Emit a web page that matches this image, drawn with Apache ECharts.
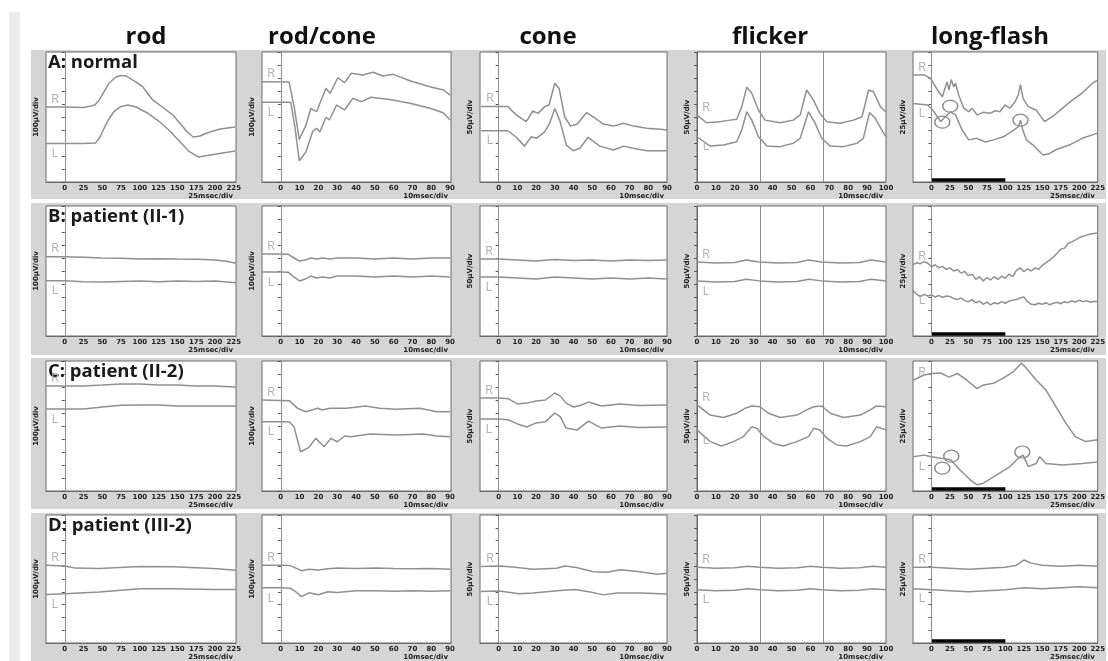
<!DOCTYPE html>
<html>
<head>
<meta charset="utf-8">
<script src="https://cdn.jsdelivr.net/npm/echarts/dist/echarts.min.js"></script>
<style>
html,body{margin:0;padding:0;background:#fff;}
#chart{width:1108px;height:661px;}
</style>
</head>
<body>
<div id="chart"></div>
<script>
// ERG recordings: 4 subjects x 5 protocols, right (R) and left (L) eye traces.
// Each trace is [time in ms, amplitude in µV].

const columnTitles = ['rod', 'rod/cone', 'cone', 'flicker', 'long-flash'];
const rowLabels = ['A: normal', 'B: patient (II-1)', 'C: patient (II-2)', 'D: patient (III-2)'];
const timeScaleLabels = ['25msec/div', '10msec/div', '10msec/div', '10msec/div', '25msec/div'];
const ampPerDiv = [100, 100, 50, 50, 25];
const ampScaleLabels = ['100µV/div', '100µV/div', '50µV/div', '50µV/div', '25µV/div'];
const timeRanges = [[-25, 228], [-10, 90.5], [-10, 90], [0, 100], [-25, 225]];
const timeSteps = [25, 10, 10, 10, 25];
const stimulusMarks = [[0], [0], [0], [33.3, 66.7], [0]];
const flashDuration = [0, 100];

// ---- A: normal ----
const rod_A_R = [[-25,577],[0,577],[25,573],[35,585],[40,592],[46,631],[52,692],[59,762],[68,808],[75,819],[82,815],[95,769],[104,731],[117,631],[130,577],[144,515],[162,392],[171,346],[180,354],[189,377],[207,408],[227,423]];
const rod_A_L = [[-25,296],[0,296],[25,296],[41,300],[46,338],[52,408],[58,477],[66,546],[75,581],[84,592],[95,577],[110,531],[125,469],[140,392],[155,300],[165,238],[178,192],[190,204],[210,223],[227,238]];
const rc_A_R = [[-10,772],[4.4,769],[7.1,579],[9.8,328],[13.4,438],[16,567],[19,541],[24,721],[26.2,682],[30.3,802],[33.9,764],[37.4,836],[43.6,823],[49,844],[54.3,815],[59.7,828],[68.6,779],[79.3,733],[86.4,708],[90,669]];
const rc_A_L = [[-10,613],[5.3,613],[7.5,425],[9.8,164],[13.4,233],[16.9,387],[19,413],[20.8,387],[24,498],[25.8,477],[29.7,592],[33.9,554],[38.3,644],[42.8,618],[48.1,652],[59.7,631],[68.6,605],[79.3,567],[86.4,533],[90,477]];
const cone_A_R = [[-9.5,290],[4.9,290],[9.4,258],[14.7,232],[18.3,273],[21,264],[24.6,290],[26.9,296],[30,380],[32.3,360],[35.3,251],[38.4,215],[41.9,222],[47,267],[50.9,249],[55.9,223],[61.3,215],[66.7,226],[72,215],[79.2,207],[86.4,203],[90,200]];
const cone_A_L = [[-9.5,197],[4.9,197],[9.4,172],[13.8,138],[17.4,174],[20.1,168],[24.6,193],[27.3,226],[30,283],[32.6,238],[36.2,142],[39.8,120],[43.4,130],[47.8,172],[54.1,138],[61.3,123],[66.7,138],[72,130],[79.2,120],[90,120]];
const flk_A_R = [[0,258],[5,228],[12,232],[17.5,238],[21,241],[23.7,290],[26.3,364],[29,341],[32.5,277],[36,238],[44,228],[51,238],[54.6,258],[58,354],[61.6,315],[65,264],[68.7,232],[75.8,226],[82.8,238],[87.3,251],[90.8,354],[93.4,347],[97,290],[100,269]];
const flk_A_L = [[0,174],[7,138],[14,142],[21,155],[23.7,200],[26.3,270],[29,238],[32.5,174],[37,138],[44,136],[51,149],[54.6,168],[59,270],[62.5,226],[66,168],[70.5,138],[77.5,136],[84.6,149],[88,168],[91.3,267],[94.3,245],[98.8,187],[100,174]];
const lf_A_R = [[-25,206],[-10,206],[-1,199],[8,177],[14.7,164],[19,183],[21,193],[23.7,177],[26.8,197],[30,183],[32.5,190],[37,167],[43.8,142],[50.5,135],[55,142],[61.6,129],[70,134],[79.4,132],[86,137],[92.8,135],[99.5,148],[106,142],[113,154],[117.4,167],[120.5,187],[124,161],[130.8,145],[142,138],[153,116],[164,126],[177.6,142],[191,158],[204,171],[218,190],[225,196]];
const lf_A_L = [[-25,151],[-5,148],[3.6,135],[12.4,116],[19,126],[26,135],[32.5,129],[41.5,100],[50.5,81],[61.6,84],[72.8,77],[84,81],[97.3,87],[108.4,97],[117.4,106],[120.5,119],[123,103],[128.5,81],[137.5,71],[150.9,52],[159.7,55],[168.6,62],[186.4,71],[204,84],[225,94]];
const lf_A_circles = [[25.4,146],[14.7,115],[120.5,119]];

// ---- B: patient (II-1) ----
const rod_B_R = [[-25,610],[0,610],[25,605],[50,600],[75,598],[100,592],[125,595],[150,592],[175,590],[200,585],[215,575],[228,559]];
const rod_B_L = [[-25,425],[0,425],[25,418],[50,415],[75,420],[100,423],[125,418],[150,423],[175,420],[200,423],[228,410]];
const rc_B_R = [[-10,631],[0,631],[4,628],[7,600],[10,577],[13,585],[16,600],[19,592],[22,600],[26,592],[30,600],[40,600],[50,592],[60,600],[70,592],[80,600],[90,600]];
const rc_B_L = [[-10,492],[0,492],[4,490],[7,454],[10,423],[13,438],[16,461],[19,446],[22,454],[26,446],[30,461],[40,461],[50,454],[60,461],[70,454],[80,461],[90,454]];
const cone_B_R = [[-10,296],[0,296],[10,292],[20,288],[30,294],[40,290],[50,292],[60,288],[70,292],[80,290],[90,292]];
const cone_B_L = [[-10,227],[0,227],[10,223],[20,219],[30,227],[40,223],[50,219],[60,223],[70,219],[80,223],[90,219]];
const flk_B_R = [[0,285],[10,281],[20,283],[26,292],[33,285],[43,281],[53,283],[59,292],[66,285],[76,281],[86,283],[92,292],[100,285]];
const flk_B_L = [[0,212],[10,208],[20,210],[26,218],[33,212],[43,208],[53,210],[59,218],[66,212],[76,208],[86,210],[92,218],[100,212]];
const lf_B_R = [[-25,137],[-20,141],[-15,139],[-10,143],[-5,140],[0,133],[5,137],[10,131],[15,134],[20,128],[25,131],[30,125],[35,128],[40,121],[45,124],[50,116],[55,119],[60,109],[65,114],[70,106],[75,112],[80,108],[85,114],[90,109],[95,115],[100,111],[105,119],[110,114],[115,126],[120,131],[125,124],[130,129],[135,125],[140,131],[145,128],[150,136],[155,141],[160,146],[165,152],[170,159],[175,167],[180,169],[185,178],[190,181],[195,185],[200,189],[205,192],[210,194],[215,196],[220,197],[225,198]];
const lf_B_L = [[-25,88],[-20,80],[-15,76],[-10,80],[-5,77],[0,79],[5,75],[10,78],[15,74],[20,77],[25,76],[30,72],[35,70],[40,73],[45,68],[50,66],[55,70],[60,64],[65,67],[70,61],[75,65],[80,60],[85,64],[90,62],[95,66],[100,63],[105,67],[110,69],[115,70],[120,73],[125,75],[130,66],[135,61],[140,60],[145,63],[150,61],[155,64],[160,60],[165,63],[170,65],[175,62],[180,66],[185,64],[190,68],[195,65],[200,69],[205,66],[210,68],[215,65],[220,67],[225,66]];

// ---- C: patient (II-2) ----
const rod_C_R = [[-25,808],[0,808],[25,808],[50,815],[75,823],[100,823],[125,815],[150,815],[175,808],[200,808],[228,800]];
const rod_C_L = [[-25,631],[0,631],[25,631],[50,646],[75,660],[100,662],[125,662],[150,654],[175,654],[200,654],[228,654]];
const rc_C_R = [[-10,700],[4.5,695],[9,636],[13.4,610],[19.6,636],[22,623],[26,636],[35,636],[45,654],[52.6,636],[61.5,628],[74,636],[83,610],[90,610]];
const rc_C_L = [[-10,533],[4.5,533],[7,495],[10.5,302],[15,336],[18.6,405],[23,341],[26.6,405],[30,379],[34,423],[37.5,418],[47.5,438],[61.5,431],[75.6,438],[83,423],[90,418]];
const cone_C_R = [[-10,358],[0,358],[5,355],[10,335],[15,338],[20,346],[25,350],[30,377],[33,365],[36,338],[40,323],[44,330],[48,342],[55,327],[65,335],[75,329],[90,331]];
const cone_C_L = [[-10,277],[0,277],[5,274],[10,258],[15,246],[20,262],[25,266],[30,300],[33,285],[36,242],[42,235],[48,269],[55,242],[65,250],[75,244],[90,246]];
const flk_C_R = [[0,331],[7,292],[14,283],[21,299],[25.4,318],[29,327],[33.4,324],[37.8,299],[44,283],[52.8,292],[58,312],[61.7,324],[66,327],[70.5,299],[77.5,283],[86.4,292],[91.7,312],[95,327],[100,324]];
const flk_C_L = [[0,235],[7,190],[13,173],[19.3,190],[24.5,209],[29,247],[31.6,241],[35,212],[40.5,183],[45.7,173],[52.8,190],[59,209],[61.7,241],[65,235],[68.7,203],[74,177],[79,173],[86.4,190],[91.7,209],[95,247],[100,235]];
const lf_C_R = [[-25,213],[-10,223],[0,226],[12.5,227],[23.7,219],[34.8,226],[48,213],[61.6,197],[70.5,204],[84,207],[97,217],[110.6,229],[121.7,246],[128.5,236],[142,213],[155,194],[168.6,162],[182,130],[195,104],[209,95],[222,98],[225,98]];
const lf_C_L = [[-25,66],[-10,69],[0,66],[12.5,63],[26,60],[39,40],[52.8,21],[61.6,12],[70.5,15],[88.4,31],[106.3,47],[117.4,63],[124,69],[131,47],[142,53],[146.5,66],[155,53],[177.6,50],[204,53],[225,56]];
const lf_C_circles = [[26.8,67],[14.7,44],[123,75]];

// ---- D: patient (III-2) ----
const rod_D_R = [[-25,608],[0,602],[14,585],[46,582],[100,598],[144,595],[198,582],[228,569]];
const rod_D_L = [[-25,379],[0,385],[46,398],[100,423],[144,423],[198,418],[228,418]];
const rc_D_R = [[-10,608],[0,608],[5,605],[8,585],[11,565],[15,577],[20,570],[25,580],[30,585],[40,582],[50,585],[60,582],[70,580],[80,582],[90,577]];
const rc_D_L = [[-10,431],[0,431],[5,428],[8,400],[11,362],[15,392],[20,377],[25,400],[30,395],[40,408],[50,408],[60,405],[70,408],[80,405],[90,408]];
const cone_D_R = [[-9.5,299],[0.4,301],[7.6,297],[18.4,288],[30.9,292],[35.4,301],[41.6,295],[50.6,278],[57.8,276],[65,286],[75.6,278],[84.6,269],[90,272]];
const cone_D_L = [[-9.5,201],[0.4,203],[11,192],[18.4,195],[32.7,205],[40.8,209],[48.9,199],[56,188],[63,195],[75.6,195],[90,191]];
const flk_D_R = [[0,296],[10,292],[20,294],[27,300],[33,296],[43,292],[53,294],[60,300],[66,296],[76,292],[86,294],[93,300],[100,296]];
const flk_D_L = [[0,208],[10,204],[20,206],[27,212],[33,208],[43,204],[53,206],[60,212],[66,208],[76,204],[86,206],[93,212],[100,208]];
const lf_D_R = [[-25,148],[0,148],[25,146],[50,144],[75,146],[100,148],[115,152],[125,162],[135,156],[150,152],[175,150],[200,152],[225,150]];
const lf_D_L = [[-25,106],[0,104],[25,102],[50,100],[75,102],[100,104],[125,108],[150,106],[175,108],[200,110],[225,108]];

const traces = [
  [[rod_A_R, rod_A_L], [rc_A_R, rc_A_L], [cone_A_R, cone_A_L], [flk_A_R, flk_A_L], [lf_A_R, lf_A_L]],
  [[rod_B_R, rod_B_L], [rc_B_R, rc_B_L], [cone_B_R, cone_B_L], [flk_B_R, flk_B_L], [lf_B_R, lf_B_L]],
  [[rod_C_R, rod_C_L], [rc_C_R, rc_C_L], [cone_C_R, cone_C_L], [flk_C_R, flk_C_L], [lf_C_R, lf_C_L]],
  [[rod_D_R, rod_D_L], [rc_D_R, rc_D_L], [cone_D_R, cone_D_L], [flk_D_R, flk_D_L], [lf_D_R, lf_D_L]]
];
const circledPeaks = [lf_A_circles, null, lf_C_circles, null];

// ---- layout ----
const colLeft = [46, 262, 480, 697, 913];
const colWidth = [190, 189, 187, 189, 189];
const rowTop = [52, 206, 361, 515];
const plotHeight = 130;
const titleCenters = [146, 322, 548, 770, 990];
const bandTop = [50, 203, 358, 513];
const bandBottom = [199, 355, 509, 661];

const traceColor = '#909090';
const frameColor = '#6a6a6a';
const tickFont = 'DejaVu Sans';

const chart = echarts.init(document.getElementById('chart'), null, {renderer: 'canvas'});

const grids = [], xAxes = [], yAxes = [], series = [];
const staticGraphics = [];

staticGraphics.push({type: 'rect', z: -5, shape: {x: 9, y: 12, width: 11, height: 649}, style: {fill: '#ececec'}});
for (let r = 0; r < 4; r++) {
  staticGraphics.push({type: 'rect', z: -5, shape: {x: 31, y: bandTop[r], width: 1075, height: bandBottom[r] - bandTop[r]}, style: {fill: '#d5d5d5'}});
}
columnTitles.forEach((t, c) => {
  staticGraphics.push({type: 'text', z: 20, style: {text: t, x: titleCenters[c], y: 37, align: 'center', verticalAlign: 'middle', font: 'bold 24px "Open Sans"', fill: '#111'}});
});
rowLabels.forEach((t, r) => {
  staticGraphics.push({type: 'text', z: 20, style: {text: t, x: 48, y: rowTop[r] + 11, align: 'left', verticalAlign: 'middle', font: 'bold 18.5px "Open Sans"', fill: '#1a1a1a'}});
});

for (let r = 0; r < 4; r++) {
  for (let c = 0; c < 5; c++) {
    const idx = r * 5 + c;
    const step = timeSteps[c];
    grids.push({left: colLeft[c], top: rowTop[r], width: colWidth[c], height: plotHeight, show: true, backgroundColor: '#fff', borderColor: frameColor, borderWidth: 1});
    xAxes.push({
      gridIndex: idx, type: 'value', min: timeRanges[c][0], max: timeRanges[c][1], interval: step,
      axisLine: {show: true, onZero: false, lineStyle: {color: frameColor}},
      axisTick: {show: false}, splitLine: {show: false},
      axisLabel: {interval: 0, fontSize: 7, fontWeight: 'bold', fontFamily: tickFont, color: '#222', margin: 3,
        formatter: v => (v >= 0 && Math.abs(v % step) < 1e-6) ? String(v) : ''},
      name: timeScaleLabels[c], nameLocation: 'end', nameGap: -3,
      nameTextStyle: {align: 'right', verticalAlign: 'top', padding: [11, 0, 0, 0], fontSize: 7, fontWeight: 'bold', fontFamily: tickFont, color: '#222'}
    });
    yAxes.push({
      gridIndex: idx, type: 'value', min: 0, max: 10 * ampPerDiv[c], interval: ampPerDiv[c],
      axisLine: {show: true, lineStyle: {color: frameColor}},
      axisTick: {show: true, length: 3, lineStyle: {color: '#555'}},
      axisLabel: {show: false}, splitLine: {show: false},
      name: ampScaleLabels[c], nameLocation: 'middle', nameGap: 6, nameRotate: 90,
      nameTextStyle: {fontSize: 7, fontWeight: 'bold', fontFamily: tickFont, color: '#222'}
    });
    const [R, L] = traces[r][c];
    series.push({
      type: 'line', xAxisIndex: idx, yAxisIndex: idx, data: R, symbol: 'none', animation: false,
      lineStyle: {color: traceColor, width: 1.5}, z: 3,
      markLine: {silent: true, symbol: ['none', 'none'], label: {show: false}, animation: false,
        lineStyle: {color: '#8f8f8f', width: 1, type: 'solid'},
        data: stimulusMarks[c].map(t => ({xAxis: t}))}
    });
    const lSeries = {
      type: 'line', xAxisIndex: idx, yAxisIndex: idx, data: L, symbol: 'none', animation: false,
      lineStyle: {color: traceColor, width: 1.5}, z: 3
    };
    if (c === 4 && circledPeaks[r]) {
      lSeries.markPoint = {silent: true, animation: false, symbol: 'circle', symbolSize: [15, 12],
        itemStyle: {color: 'rgba(0,0,0,0)', borderColor: '#8a8a8a', borderWidth: 1.3},
        label: {show: false}, data: circledPeaks[r].map(p => ({coord: p}))};
    }
    series.push(lSeries);
    if (c === 4) {
      const level = 0.15 * ampPerDiv[c];
      series.push({type: 'line', xAxisIndex: idx, yAxisIndex: idx, symbol: 'none', animation: false, clip: false,
        data: flashDuration.map(t => [t, level]), lineStyle: {color: '#000', width: 3.5}, z: 4});
    }
  }
}

const option = {
  backgroundColor: '#fff',
  animation: false,
  grid: grids, xAxis: xAxes, yAxis: yAxes, series: series,
  graphic: staticGraphics
};
chart.setOption(option);

// R / L eye tags placed just above / below the first sample of each trace.
const eyeTags = [];
for (let r = 0; r < 4; r++) {
  for (let c = 0; c < 5; c++) {
    const idx = r * 5 + c;
    const [R, L] = traces[r][c];
    const pR = chart.convertToPixel({gridIndex: idx}, R[0]);
    const pL = chart.convertToPixel({gridIndex: idx}, L[0]);
    eyeTags.push({type: 'text', z: 20, style: {text: 'R', x: pR[0] + 9, y: pR[1] - 8, align: 'center', verticalAlign: 'middle', font: '13px "Open Sans"', fill: '#b3b3b3'}});
    eyeTags.push({type: 'text', z: 20, style: {text: 'L', x: pL[0] + 9, y: pL[1] + 10, align: 'center', verticalAlign: 'middle', font: '13px "Open Sans"', fill: '#b3b3b3'}});
  }
}
chart.setOption({graphic: staticGraphics.concat(eyeTags)});
</script>
</body>
</html>
